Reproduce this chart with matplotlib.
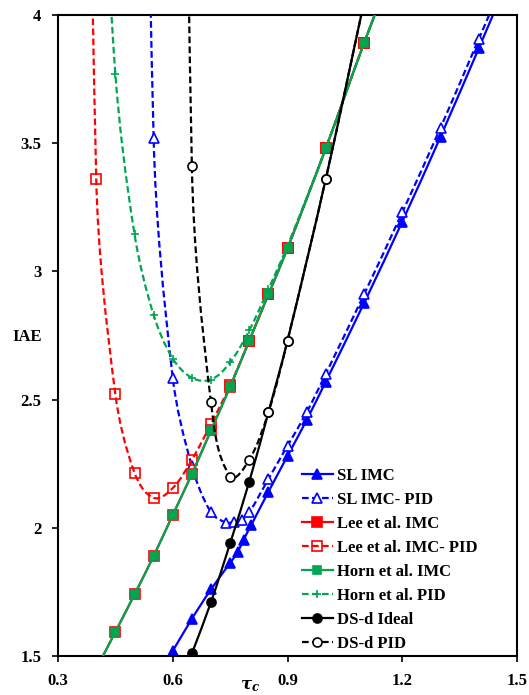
import numpy as np
import matplotlib
matplotlib.use("Agg")
import matplotlib.pyplot as plt
from matplotlib.path import Path
from matplotlib.patches import PathPatch
from matplotlib.lines import Line2D

# (points outside the axes only steer the curve ends)
tau_sl = [0.55, 0.6, 0.65, 0.7, 0.75, 0.77, 0.785, 0.805, 0.85, 0.9, 0.95, 1.0, 1.1, 1.2, 1.3, 1.4, 1.5]
iae_sl_imc = [1.40, 1.52, 1.645, 1.76, 1.863, 1.906, 1.953, 2.01, 2.14, 2.28, 2.42, 2.57, 2.876, 3.194, 3.525, 3.87, 4.22]

tau_sl_pid = [0.5, 0.55, 0.6, 0.65, 0.7, 0.74, 0.76, 0.78, 0.8, 0.85, 0.9, 0.95, 1.0, 1.1, 1.2, 1.3, 1.4, 1.5]
iae_sl_pid = [8.5, 3.52, 2.585, 2.24, 2.06, 2.02, 2.023, 2.03, 2.06, 2.19, 2.32, 2.45, 2.60, 2.91, 3.23, 3.56, 3.906, 4.25]

tau_imc = [0.4, 0.45, 0.5, 0.55, 0.6, 0.65, 0.7, 0.75, 0.8, 0.85, 0.9, 1.0, 1.1, 1.2]
iae_lee_imc = [1.45, 1.594, 1.74, 1.89, 2.05, 2.21, 2.38, 2.55, 2.73, 2.91, 3.09, 3.48, 3.89, 4.28]
iae_horn_imc = [1.45, 1.594, 1.74, 1.89, 2.05, 2.21, 2.38, 2.55, 2.73, 2.91, 3.09, 3.48, 3.89, 4.28]

tau_lee_pid = [0.35, 0.4, 0.45, 0.5, 0.55, 0.6, 0.65, 0.7, 0.75, 0.8, 0.85, 0.9, 1.0, 1.1, 1.2]
iae_lee_pid = [8.9, 3.36, 2.52, 2.215, 2.117, 2.155, 2.265, 2.405, 2.555, 2.73, 2.91, 3.09, 3.48, 3.89, 4.28]

tau_horn_pid = [0.4, 0.45, 0.5, 0.55, 0.6, 0.65, 0.7, 0.75, 0.8, 0.85, 0.9, 1.0, 1.1, 1.2]
iae_horn_pid = [5.2, 3.77, 3.145, 2.83, 2.66, 2.585, 2.578, 2.645, 2.77, 2.93, 3.10, 3.48, 3.89, 4.28]

tau_ds = [0.65, 0.7, 0.75, 0.8, 0.85, 0.9, 1.0, 1.1]
iae_ds_ideal = [1.51, 1.71, 1.94, 2.18, 2.45, 2.73, 3.36, 4.05]

tau_ds_pid = [0.6, 0.65, 0.7, 0.75, 0.8, 0.85, 0.9, 1.0, 1.1]
iae_ds_pid = [10.0, 3.41, 2.49, 2.20, 2.265, 2.45, 2.73, 3.36, 4.05]

labels = ["SL IMC", "SL IMC- PID", "Lee et al. IMC", "Lee et al. IMC- PID",
          "Horn et al. IMC", "Horn et al. PID", "DS-d Ideal", "DS-d PID"]

BLUE = "#0000ff"
RED = "#ff0000"
GREEN = "#00a651"
DASH = (0, (3, 1.5))

plt.rcParams["font.family"] = ["Liberation Serif", "DejaVu Serif"]
plt.rcParams["font.weight"] = "bold"
plt.rcParams["mathtext.fontset"] = "dejavuserif"

# pixels per data unit, so the smoothing works on the drawn shape
SX, SY = 382.5, 256.4


def smooth_path(x, y, t=1 / 3):
    # excel-like smoothed line: bezier segments, tangents scaled by chord length
    pts = np.column_stack([np.asarray(x) * SX, np.asarray(y) * SY])
    n = len(pts)
    verts = [pts[0]]
    codes = [Path.MOVETO]
    for i in range(n - 1):
        p0 = pts[i - 1] if i > 0 else pts[i]
        p1 = pts[i]
        p2 = pts[i + 1]
        p3 = pts[i + 2] if i + 2 < n else pts[i + 1]
        d1 = (p2 - p0) / np.linalg.norm(p2 - p0)
        d2 = (p3 - p1) / np.linalg.norm(p3 - p1)
        L = np.linalg.norm(p2 - p1)
        verts += [p1 + d1 * L * t, p2 - d2 * L * t, p2]
        codes += [Path.CURVE4] * 3
    verts = np.array(verts) / [SX, SY]
    return Path(verts, codes)


series = [
    (tau_sl, iae_sl_imc, BLUE, "-", "^", BLUE, BLUE, 6.5),
    (tau_sl_pid, iae_sl_pid, BLUE, DASH, "^", "white", BLUE, 6.5),
    (tau_imc, iae_lee_imc, RED, "-", "s", RED, RED, 7),
    (tau_lee_pid, iae_lee_pid, RED, DASH, "s", "none", RED, 7),
    (tau_imc, iae_horn_imc, GREEN, "-", "s", GREEN, GREEN, 6),
    (tau_horn_pid, iae_horn_pid, GREEN, DASH, "+", GREEN, GREEN, 6),
    (tau_ds, iae_ds_ideal, "black", "-", "o", "black", "black", 6.5),
    (tau_ds_pid, iae_ds_pid, "black", DASH, "o", "white", "black", 6.5),
]

fig = plt.figure(figsize=(5.29, 6.95), dpi=100)
ax = fig.add_axes([58 / 529, 39 / 695, 459 / 529, 641 / 695])

handles = []
for k, (x, y, col, ls, mk, mfc, mec, ms) in enumerate(series):
    z = 2 + k
    ax.add_patch(PathPatch(smooth_path(x, y), fill=False, edgecolor=col,
                           lw=1.6, linestyle=ls, zorder=z))
    ax.plot(x, y, linestyle="none", marker=mk, ms=ms, mfc=mfc, mec=mec,
            mew=1.2, zorder=z + 0.5)
    handles.append(Line2D([], [], color=col, lw=1.6, linestyle=ls, marker=mk,
                          ms=ms, mfc=mfc, mec=mec, mew=1.2))

ax.set_xlim(0.3, 1.5)
ax.set_ylim(1.5, 4)
ax.set_xticks([0.3, 0.6, 0.9, 1.2, 1.5])
ax.set_xticklabels(["0.3", "0.6", "0.9", "1.2", "1.5"])
ax.set_yticks([1.5, 2, 2.5, 3, 3.5, 4])
ax.set_yticklabels(["1.5", "2", "2.5", "3", "3.5", "4"])
ax.tick_params(direction="out", length=4, width=1.2, labelsize=12)
ax.tick_params(axis="x", pad=8)
ax.tick_params(axis="y", pad=8)
for s in ax.spines.values():
    s.set_linewidth(1.5)

fig.text(12 / 529, 1 - 337 / 695, "IAE", va="center", ha="left", fontsize=12)
fig.text(250 / 529, 1 - 686 / 695, r"$\tau_c$", va="center", ha="center", fontsize=12)

ax.legend(handles, labels, loc="upper left", bbox_to_anchor=(302 / 529, 1 - 468 / 695),
          bbox_transform=fig.transFigure, frameon=False, borderpad=0, borderaxespad=0,
          fontsize=12, handlelength=1.85, handletextpad=0.25, labelspacing=0.48)

fig.savefig("out.png", dpi=100)
